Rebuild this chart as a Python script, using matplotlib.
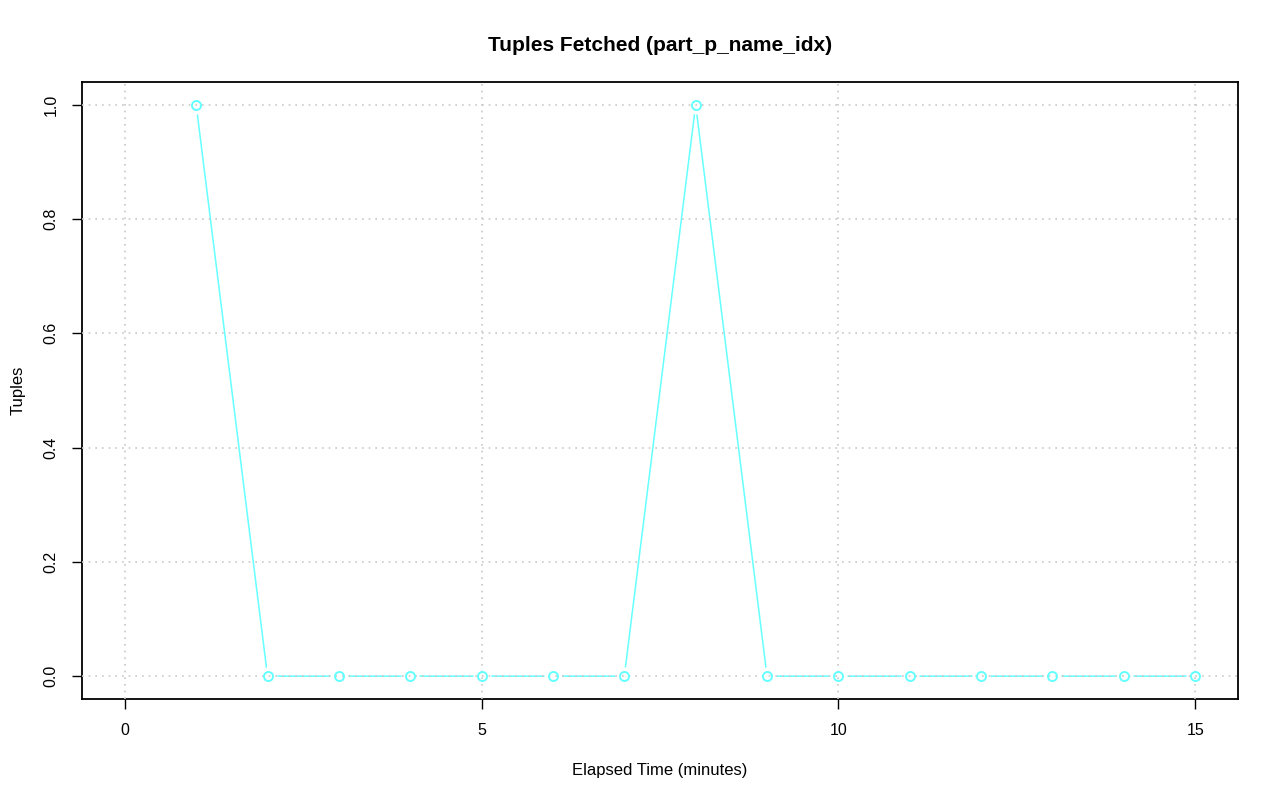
import matplotlib
matplotlib.use("Agg")
import matplotlib.pyplot as plt
import numpy as np

plt.rcParams['font.family'] = ['Liberation Sans', 'DejaVu Sans']

minutes = [1, 2, 3, 4, 5, 6, 7, 8, 9, 10, 11, 12, 13, 14, 15]
tuples = [1, 0, 0, 0, 0, 0, 0, 1, 0, 0, 0, 0, 0, 0, 0]
x_ticks = [0, 5, 10, 15]
y_ticks = [0.0, 0.2, 0.4, 0.6, 0.8, 1.0]

col = '#66ffff'

fig = plt.figure(figsize=(12.8, 8.01), dpi=100)
ax = fig.add_axes([82/1280, 1-699/801, (1238-82)/1280, (699-82)/801])

ax.plot(minutes, tuples, color=col, lw=1.1, zorder=2)
ax.plot(minutes, tuples, ls='none', marker='o', ms=13, mfc='white', mec='none', zorder=3)
ax.plot(minutes, tuples, ls='none', marker='o', ms=6.5, mfc='none', mec=col, mew=1.4, zorder=5)

ax.set_xlim(-0.6, 15.6)
ax.set_ylim(-0.04, 1.04)
ax.set_xticks(x_ticks)
ax.set_xticklabels([str(t) for t in x_ticks])
ax.set_yticks(y_ticks)
ax.set_yticklabels([f"{t:.1f}" for t in y_ticks], rotation=90, va='center')

for t in x_ticks:
    ax.axvline(t, color='#c8c8c8', ls=(0, (1, 3)), lw=1.2, zorder=4)
for t in y_ticks:
    ax.axhline(t, color='#c8c8c8', ls=(0, (1, 3)), lw=1.2, zorder=4)

for s in ax.spines.values():
    s.set_linewidth(1.3)
ax.tick_params(direction='out', length=7, width=1, labelsize=11.5, pad=10)

ax.set_title('Tuples Fetched (part_p_name_idx)', fontsize=15, fontweight='bold', pad=22)
ax.set_xlabel('Elapsed Time (minutes)', fontsize=12, labelpad=18)
ax.set_ylabel('Tuples', fontsize=12, labelpad=13)

fig.savefig('out.png', dpi=100)
